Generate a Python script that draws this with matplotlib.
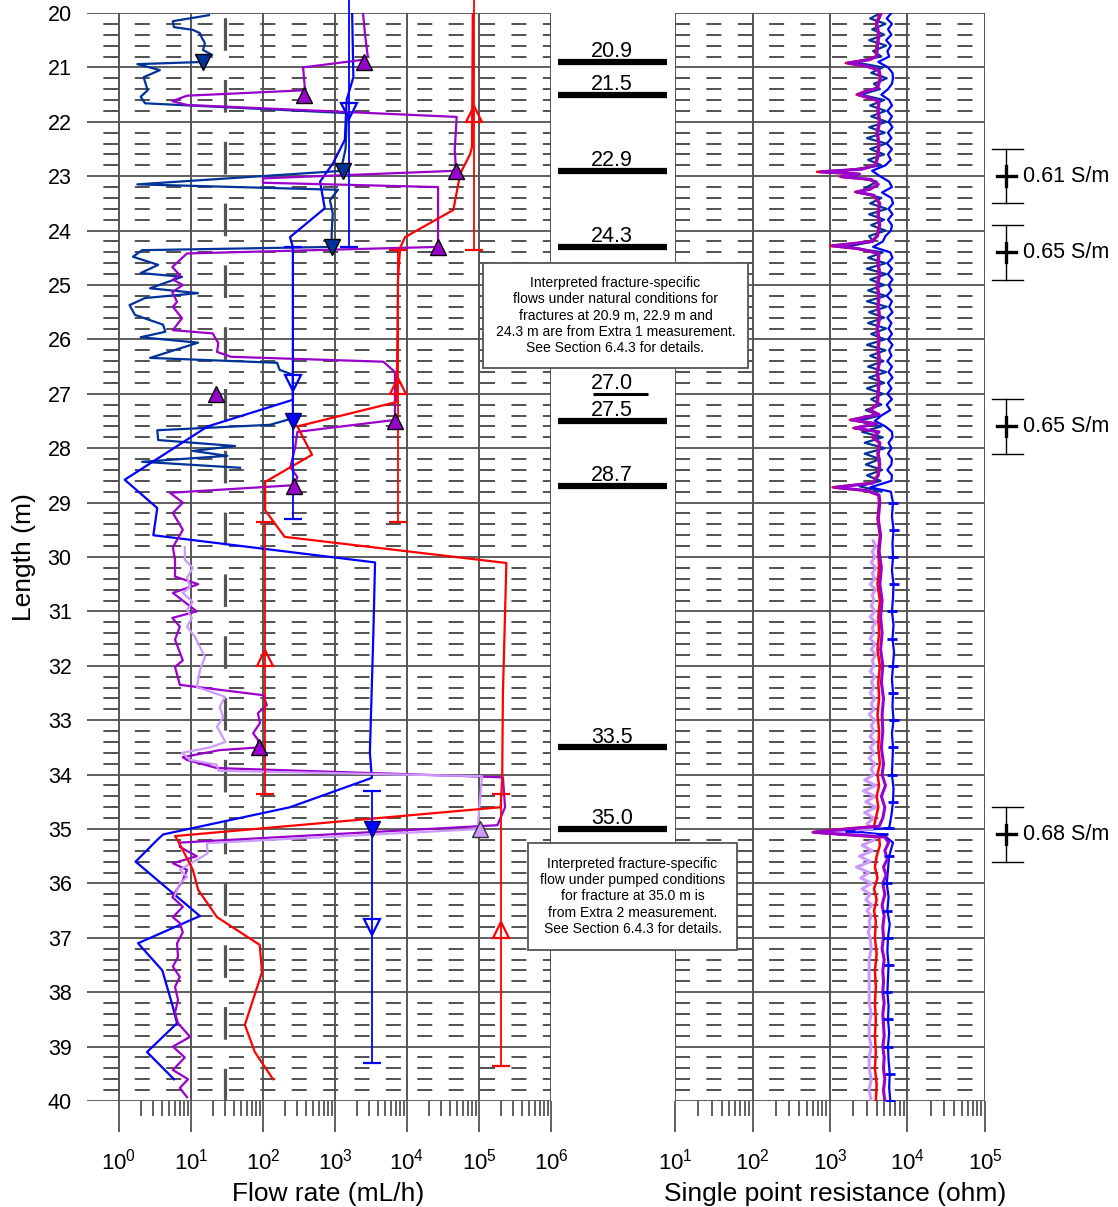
import numpy as np
import matplotlib
matplotlib.use('Agg')
import matplotlib.pyplot as plt
from matplotlib.ticker import FixedLocator, FixedFormatter, NullFormatter
from matplotlib.transforms import blended_transform_factory
from matplotlib.patches import Rectangle

plt.rcParams['font.family'] = ['Liberation Sans', 'DejaVu Sans']
plt.rcParams['mathtext.fontset'] = 'custom'
plt.rcParams['mathtext.rm'] = 'Liberation Sans'
plt.rcParams['lines.scale_dashes'] = False

NAVY = '#003399'
BLUE = '#0000ff'
PURPLE = '#9900cc'
LILAC = '#cc99ff'
RED = '#ff0000'

# ---------------- flow logging, (depth m, flow mL/h) ----------------
flow_navy = [(20.04, 17.8), (20.15, 5.6), (20.26, 5.8), (20.31, 10.6), (20.37, 13.3),
             (20.46, 14.2), (20.55, 15.6), (20.68, 14.7), (20.77, 19.6), (20.9, 14.5),
             (20.94, 1.8), (21.05, 3.7), (21.18, 2.2), (21.42, 2.5), (21.54, 2.0),
             (21.66, 2.3), (21.84, 1470), (22.5, 1400), (22.8, 1250), (22.9, 1300),
             (23.15, 1.8), (23.25, 1100), (23.44, 850), (23.68, 930), (24.05, 900),
             (24.3, 900), (24.36, 2.1), (24.48, 1.56), (24.63, 3.5), (24.78, 2.0),
             (24.85, 7.5), (25.06, 2.7), (25.15, 12.5), (25.24, 2.3), (25.37, 1.4),
             (25.55, 1.67), (25.73, 4.1), (25.86, 4.4), (25.96, 2.0), (26.06, 12.5),
             (26.34, 2.7), (26.43, 157), (26.56, 170), (26.65, 260), (27.45, 260),
             (27.57, 125), (27.67, 3.4), (27.85, 3.5), (27.96, 41), (28.05, 10.6),
             (28.14, 32), (28.25, 2.1), (28.36, 48)]

flow_blue = [(20.0, 1730), (21.18, 1800), (21.6, 1450), (22.33, 1370), (22.76, 940),
             (23.1, 620), (23.59, 720), (24.12, 237), (24.3, 260), (27.11, 260),
             (27.6, 17), (28.58, 1.2), (29.1, 3.4), (29.6, 3.0), (30.1, 3600),
             (31.47, 3400), (33.6, 3050), (34.06, 3250), (34.6, 237), (35.1, 4.1),
             (35.2, 3.4), (35.6, 1.7), (36.6, 13.3), (37.1, 1.84), (37.6, 4.0),
             (38.27, 5.6), (38.57, 6.4), (39.1, 2.45), (39.6, 5.8)]

flow_purple = [(20.0, 2450), (20.37, 2600), (20.8, 2850), (20.86, 2450), (21.0, 360),
               (21.35, 380), (21.42, 380), (21.52, 8.8), (21.62, 5.5), (21.69, 8.8),
               (21.91, 4.9e4), (22.52, 4.6e4), (22.9, 4.8e4), (23.04, 100), (23.12, 100),
               (23.2, 2.7e4), (24.17, 2.7e4), (24.3, 2.7e4), (24.42, 8.8), (24.67, 5.5),
               (24.82, 7.0), (24.9, 5.6), (25.0, 7.7), (25.13, 5.5), (25.31, 6.4),
               (25.4, 5.6), (25.61, 7.5), (25.83, 5.6), (25.89, 20), (26.07, 24),
               (26.23, 23), (26.32, 36), (26.41, 4700), (26.6, 6800), (27.48, 6800),
               (27.7, 300), (27.98, 280), (28.35, 240), (28.53, 300), (28.68, 270),
               (28.82, 5.1), (29.0, 7.7), (29.19, 5.6), (29.5, 7.7), (29.82, 5.6),
               (30.05, 6.0), (30.36, 6.0), (30.5, 12.6), (30.66, 5.6), (31.0, 12),
               (31.12, 5.5), (31.28, 7.0), (31.52, 6.0), (31.9, 7.7), (32.02, 6.0),
               (32.35, 7.0), (32.54, 100), (32.72, 113), (32.87, 85), (33.05, 91),
               (33.24, 73), (33.36, 85), (33.5, 88), (33.55, 25), (33.68, 7.7),
               (33.73, 8.8), (33.88, 23), (34.05, 2.15e5), (34.6, 2.3e5), (34.93, 1.8e5),
               (35.25, 7.0), (35.33, 7.0), (35.5, 12), (35.63, 5.6), (35.75, 8.8),
               (35.94, 7.7), (36.25, 5.5), (36.43, 7.7), (36.62, 5.6), (36.73, 7.0),
               (36.9, 7.7), (37.1, 6.4), (37.35, 6.6), (37.53, 5.6), (37.72, 7.0),
               (37.9, 6.0), (38.14, 6.6), (38.38, 6.0), (38.57, 6.6), (38.82, 9.7),
               (39.0, 5.6), (39.2, 8.2), (39.43, 5.6), (39.6, 9.1), (39.76, 7.0),
               (39.93, 8.8)]

flow_lilac = [(29.82, 8.2), (30.05, 8.2), (30.2, 10.6), (30.38, 8.8), (30.55, 9.7),
              (30.66, 7.7), (30.83, 10.6), (30.97, 8.8), (31.12, 10.3), (31.28, 8.8),
              (31.47, 11.4), (31.65, 13.3), (31.84, 15.6), (32.08, 13.3), (32.39, 12.1),
              (32.57, 29.7), (32.76, 25), (32.94, 28), (33.12, 23), (33.4, 30),
              (33.5, 18.4), (33.6, 7.5), (33.73, 9.7), (33.82, 23), (33.93, 24),
              (34.03, 1.1e5), (34.35, 1.05e5), (34.9, 9.7e4), (35.0, 1.05e5),
              (35.26, 16.6), (35.45, 17), (35.75, 7.0), (35.88, 8.8), (36.0, 7.0),
              (36.21, 6.0)]

flow_red = [(20.0, 8.2e4), (22.46, 8.0e4), (22.6, 7.5e4), (22.95, 5.5e4), (23.62, 4.4e4),
            (24.12, 9400), (24.32, 8000), (24.9, 7500), (27.15, 7200), (27.6, 300),
            (28.12, 480), (28.62, 107), (29.14, 107), (29.63, 200), (30.11, 2.4e5),
            (32.5, 2.15e5), (34.05, 2.1e5), (34.6, 2.0e5), (35.13, 6.0), (35.2, 6.5),
            (35.75, 10.6), (36.12, 12.6), (36.62, 23), (37.13, 90), (37.63, 97),
            (38.6, 56), (39.1, 77), (39.6, 138)]

# fracture-specific flows
nat_navy_pts = [(20.9, 14.7), (22.9, 1290), (24.3, 910)]
nat_purple_pts = [(20.9, 2530), (21.5, 370), (22.9, 4.8e4), (24.3, 2.7e4),
                  (27.0, 22), (27.5, 6800), (28.7, 270), (33.5, 88)]
pump_lilac_pts = [(35.0, 1.03e5)]
pump_blue_pts = [(27.5, 260), (35.0, 3250)]

# 5 m section flows (centre depth, flow, half length)
sect_blue = [(21.8, 1560, 2.5), (26.8, 260, 2.5), (36.8, 3250, 2.5)]
sect_red = [(21.85, 8.5e4, 2.5), (26.85, 7500, 2.5), (31.85, 107, 2.5), (36.85, 2.0e5, 2.5)]

detection_limit = 30  # mL/h

# ---------------- single point resistance, (depth m, ohm) ----------------
spr_navy = [(20.0, 4500), (20.1, 3300), (20.2, 5200), (20.3, 3500), (20.4, 5000), (20.5, 3200),
            (20.6, 5300), (20.7, 3600), (20.8, 4600), (20.9, 2000), (21.0, 4800), (21.1, 3400),
            (21.2, 5400), (21.3, 3700), (21.4, 4400), (21.5, 2500), (21.6, 5000), (21.7, 3300),
            (21.8, 5200), (21.9, 3400), (22.0, 5400), (22.1, 3200), (22.2, 5100), (22.3, 3000),
            (22.4, 5300), (22.5, 3300), (22.6, 5000), (22.7, 3100), (22.8, 4600), (22.9, 1500),
            (23.0, 1800), (23.1, 4000), (23.2, 3000), (23.3, 2400), (23.4, 4600), (23.5, 3300),
            (23.6, 5400), (23.7, 3200), (23.8, 5000), (23.9, 3400), (24.0, 5200), (24.1, 3200),
            (24.2, 3600), (24.3, 1600), (24.4, 4800), (24.5, 3100), (24.6, 5200), (24.7, 3000),
            (24.8, 5300), (24.9, 3300), (25.0, 5000), (25.1, 3100), (25.2, 5200), (25.3, 3000),
            (25.4, 5400), (25.5, 3200), (25.6, 5000), (25.7, 3100), (25.8, 5300), (25.9, 3400),
            (26.0, 5100), (26.1, 3000), (26.2, 5200), (26.3, 3300), (26.4, 4900), (26.5, 3100),
            (26.6, 5300), (26.7, 3200), (26.8, 5000), (26.9, 3000), (27.0, 4800), (27.1, 3400),
            (27.2, 4600), (27.3, 2900), (27.4, 4400), (27.5, 2300), (27.6, 4600), (27.7, 2600),
            (27.8, 4800), (27.9, 2800), (28.0, 5100), (28.1, 2800), (28.2, 4400), (28.3, 2900),
            (28.4, 4700), (28.5, 3000), (28.6, 4500), (28.7, 2400), (28.8, 4600)]

spr_blue = [(20.0, 6200), (20.1, 5400), (20.2, 6300), (20.3, 5600), (20.4, 6200), (20.5, 5300),
            (20.6, 6100), (20.7, 5500), (20.8, 5800), (20.9, 4200), (21.0, 5600), (21.1, 6400),
            (21.2, 6500), (21.3, 6300), (21.4, 5600), (21.5, 4600), (21.6, 5800), (21.7, 6300),
            (21.8, 5500), (21.9, 6300), (22.0, 5700), (22.1, 6400), (22.2, 5600), (22.3, 6200),
            (22.4, 5400), (22.5, 6300), (22.6, 5600), (22.7, 6100), (22.8, 5200), (22.9, 3500),
            (23.0, 4400), (23.1, 5800), (23.2, 6300), (23.3, 4700), (23.4, 6200), (23.5, 6500),
            (23.6, 5700), (23.7, 6400), (23.8, 5600), (23.9, 6300), (24.0, 6100), (24.1, 5200),
            (24.2, 4800), (24.3, 3600), (24.4, 6000), (24.5, 6400), (24.6, 5500), (24.7, 6300),
            (24.8, 5600), (24.9, 6400), (25.0, 5700), (25.1, 6200), (25.2, 5400), (25.3, 6300),
            (25.4, 5800), (25.5, 6400), (25.6, 5500), (25.7, 6200), (25.8, 5700), (25.9, 6300),
            (26.0, 5600), (26.1, 6400), (26.2, 5800), (26.3, 6200), (26.4, 5500), (26.5, 6300),
            (26.6, 5700), (26.7, 6400), (26.8, 5600), (26.9, 6200), (27.0, 5500), (27.1, 6300),
            (27.2, 5400), (27.3, 6000), (27.4, 4600), (27.5, 3800), (27.6, 5200), (27.7, 6300),
            (27.8, 6400), (27.9, 5700), (28.0, 6200), (28.1, 5600), (28.2, 6300), (28.3, 6200),
            (28.4, 5500), (28.5, 6300), (28.6, 6200), (28.72, 3300), (28.8, 6100), (29.0, 6500),
            (29.25, 6300), (29.5, 6600), (29.75, 6400), (30.0, 6500), (30.25, 6300), (30.5, 6600),
            (30.75, 6500), (31.0, 6300), (31.25, 6600), (31.5, 6400), (31.75, 6700), (32.0, 6500),
            (32.25, 6300), (32.5, 6500), (32.75, 6400), (33.0, 6600), (33.25, 6300), (33.5, 6500),
            (33.75, 6400), (34.0, 6300), (34.25, 6600), (34.5, 6500), (34.75, 6200), (34.98, 5800),
            (35.04, 1800), (35.1, 4800), (35.25, 6500), (35.5, 5800), (35.75, 5600), (36.0, 5400),
            (36.25, 5700), (36.5, 5500), (36.75, 5900), (37.0, 5600), (37.25, 5500), (37.5, 5700),
            (37.75, 5600), (38.0, 5500), (38.25, 5700), (38.5, 5600), (38.75, 5800), (39.0, 5600),
            (39.25, 5700), (39.5, 5900), (39.75, 5800), (40.0, 6000)]

spr_purple = [(20.0, 4600), (20.2, 4000), (20.4, 4300), (20.6, 4100), (20.8, 4000), (20.86, 3200),
              (20.92, 1700), (20.98, 3000), (21.05, 4300), (21.2, 4500), (21.38, 4100),
              (21.45, 2800), (21.5, 2300), (21.56, 3200), (21.62, 4300), (21.8, 4200),
              (22.0, 4400), (22.2, 4100), (22.4, 4300), (22.6, 4200), (22.8, 3900), (22.87, 2600),
              (22.92, 750), (22.96, 2400), (23.01, 1400), (23.06, 3400), (23.15, 4200),
              (23.24, 3300), (23.29, 2200), (23.35, 3700), (23.5, 4400), (23.7, 4200),
              (23.9, 4400), (24.1, 4100), (24.2, 3500), (24.25, 1700), (24.28, 1070),
              (24.33, 2300), (24.42, 4300), (24.6, 4200), (24.8, 4400), (25.0, 4100),
              (25.2, 4300), (25.4, 4200), (25.6, 4400), (25.8, 4100), (26.0, 4300), (26.2, 4200),
              (26.4, 4400), (26.6, 4100), (26.8, 4300), (27.0, 4200), (27.2, 4100), (27.3, 3300),
              (27.38, 4300), (27.48, 1900), (27.55, 4000), (27.63, 2100), (27.7, 4300),
              (27.8, 3600), (27.9, 4400), (28.1, 4200), (28.3, 4400), (28.5, 4200), (28.64, 3600),
              (28.72, 1150), (28.78, 3000), (28.86, 4300), (29.0, 4400), (29.3, 4200),
              (29.6, 4500), (29.9, 4300), (30.2, 4600), (30.5, 4400), (30.8, 4700), (31.1, 4500),
              (31.4, 4700), (31.7, 4500), (32.0, 4800), (32.3, 4600), (32.6, 4900), (32.9, 4700),
              (33.2, 4800), (33.5, 4600), (33.8, 4900), (34.0, 4700), (34.2, 5200), (34.4, 4600),
              (34.6, 5100), (34.8, 4800), (34.95, 4300), (35.02, 1200), (35.06, 620),
              (35.1, 1500), (35.15, 5100), (35.25, 5700), (35.4, 5100), (35.55, 5500),
              (35.7, 4900), (35.85, 5300), (36.0, 4800), (36.2, 5100), (36.4, 4700), (36.6, 5000),
              (36.8, 4800), (37.0, 4900), (37.2, 4700), (37.4, 5000), (37.6, 4800), (37.8, 4900),
              (38.0, 4800), (38.2, 5000), (38.4, 4800), (38.6, 4900), (38.8, 5000), (39.0, 4800),
              (39.2, 5000), (39.4, 4900), (39.6, 5100), (39.8, 4900), (40.0, 5100)]

spr_red = [(20.0, 4400), (20.2, 3900), (20.4, 4200), (20.6, 4000), (20.8, 3900), (20.86, 3000),
           (20.92, 1600), (20.98, 2900), (21.05, 4200), (21.2, 4400), (21.38, 4000),
           (21.45, 2700), (21.5, 2200), (21.56, 3100), (21.62, 4200), (21.8, 4100),
           (22.0, 4300), (22.2, 4000), (22.4, 4200), (22.6, 4100), (22.8, 3800), (22.87, 2500),
           (22.92, 680), (22.96, 2300), (23.01, 1350), (23.06, 3300), (23.15, 4100),
           (23.24, 3200), (23.29, 2100), (23.35, 3600), (23.5, 4300), (23.7, 4100),
           (23.9, 4300), (24.1, 4000), (24.2, 3400), (24.25, 1600), (24.28, 1000),
           (24.33, 2200), (24.42, 4200), (24.6, 4100), (24.8, 4300), (25.0, 4000),
           (25.2, 4200), (25.4, 4100), (25.6, 4300), (25.8, 4000), (26.0, 4200), (26.2, 4100),
           (26.4, 4300), (26.6, 4000), (26.8, 4200), (27.0, 4100), (27.2, 4000), (27.3, 3200),
           (27.38, 4200), (27.48, 1800), (27.55, 3900), (27.63, 2000), (27.7, 4200),
           (27.8, 3500), (27.9, 4300), (28.1, 4100), (28.3, 4300), (28.5, 4100), (28.64, 3500),
           (28.72, 1080), (28.78, 2900), (28.86, 4200), (29.0, 4300), (29.3, 4100),
           (29.6, 4400), (29.9, 4200), (30.2, 4300), (30.5, 4100), (30.8, 4400), (31.1, 4200),
           (31.4, 4300), (31.7, 4100), (32.0, 4400), (32.3, 4200), (32.6, 4300), (32.9, 4100),
           (33.2, 4300), (33.5, 4200), (33.8, 4400), (34.0, 4100), (34.2, 4300), (34.4, 4000),
           (34.6, 4200), (34.8, 3900), (34.95, 3700), (35.02, 1000), (35.06, 600), (35.1, 1400),
           (35.15, 4300), (35.3, 4400), (35.5, 4000), (35.7, 3800), (35.9, 4100), (36.1, 3700),
           (36.3, 4000), (36.5, 3700), (36.7, 3900), (37.0, 3800), (37.3, 4000), (37.6, 3800),
           (37.9, 3900), (38.2, 3800), (38.5, 3900), (38.8, 3800), (39.1, 3900), (39.4, 3800),
           (39.7, 4000), (40.0, 3900)]

spr_lilac = [(29.7, 3600), (29.8, 3900), (29.9, 3500), (30.0, 3800), (30.1, 3400), (30.2, 3900),
             (30.3, 3500), (30.4, 3800), (30.5, 3300), (30.6, 3900), (30.7, 3500), (30.8, 3700),
             (30.9, 3400), (31.0, 3800), (31.1, 3300), (31.2, 3900), (31.3, 3500), (31.4, 3700),
             (31.5, 3300), (31.6, 3800), (31.7, 3400), (31.8, 3900), (31.9, 3500), (32.0, 3700),
             (32.1, 3300), (32.2, 3800), (32.3, 3400), (32.4, 3700), (32.5, 3300), (32.6, 3800),
             (32.7, 3400), (32.8, 3700), (32.9, 3200), (33.0, 3800), (33.1, 3400), (33.2, 3700),
             (33.3, 3300), (33.4, 3800), (33.5, 3300), (33.6, 3700), (33.7, 3200), (33.8, 3800),
             (33.9, 3400), (34.0, 3700), (34.1, 2800), (34.2, 3900), (34.3, 2700), (34.4, 3800),
             (34.5, 2900), (34.6, 3900), (34.7, 2800), (34.8, 3700), (34.9, 3000), (35.0, 3500),
             (35.06, 600), (35.12, 3800), (35.2, 3700), (35.3, 2600), (35.4, 3500), (35.5, 2400),
             (35.6, 3300), (35.7, 2200), (35.8, 3200), (35.9, 2500), (36.0, 3400), (36.1, 2600),
             (36.2, 3300), (36.3, 2900), (36.4, 3500), (36.5, 3000), (36.6, 3400), (36.7, 3200),
             (36.8, 3300), (36.9, 3100), (37.0, 3300), (37.2, 3400), (37.4, 3200), (37.6, 3200),
             (37.8, 3200), (38.0, 3200), (38.2, 3200), (38.4, 3400), (38.6, 3200), (38.8, 3200),
             (39.0, 3400), (39.2, 3200), (39.4, 3200), (39.6, 3400), (39.8, 3200), (40.0, 3400)]

# fracture depths shown between the panels
fracture_depths = [20.9, 21.5, 22.9, 24.3, 27.0, 27.5, 28.7, 33.5, 35.0]
fracture_minor = [27.0]

# electric conductivity of fracture water
cond_depths = [23.0, 24.4, 27.6, 35.1]
cond_labels = ['0.61 S/m', '0.65 S/m', '0.65 S/m', '0.68 S/m']

note_natural = ('Interpreted fracture-specific\nflows under natural conditions for\n'
                'fractures at 20.9 m, 22.9 m and\n24.3 m are from Extra 1 measurement.\n'
                'See Section 6.4.3 for details.')
note_pumped = ('Interpreted fracture-specific\nflow under pumped conditions\n'
               'for fracture at 35.0 m is\nfrom Extra 2 measurement.\n'
               'See Section 6.4.3 for details.')


def unpack(pairs):
    arr = np.array(pairs, dtype=float)
    return arr[:, 0], arr[:, 1]


W, H = 1118, 1207
fig = plt.figure(figsize=(W / 100, H / 100), dpi=100)


def add_px_axes(x0, x1, y0, y1):
    return fig.add_axes([x0 / W, 1 - y1 / H, (x1 - x0) / W, (y1 - y0) / H])


ax_flow = add_px_axes(87, 551, 13, 1101)
ax_mid = add_px_axes(551, 675, 13, 1101)
ax_spr = add_px_axes(675, 985, 13, 1101)


def setup_log_panel(ax, lo_dec, hi_dec, xmin, dash_offset):
    ax.set_xscale('log')
    ax.set_xlim(xmin, 10.0 ** hi_dec)
    ax.set_ylim(40, 20)
    for s in ax.spines.values():
        s.set_visible(False)
    # depth grid: solid every metre, short dashes every 0.2 m
    for d in range(20, 41):
        ax.axhline(d, color='#444444', lw=1.2, zorder=1)
    for d in range(20, 40):
        for f in (0.2, 0.4, 0.6, 0.8):
            ax.axhline(d + f, color='#333333', lw=1.2, zorder=1,
                       linestyle=(dash_offset, (10.8, 11.8)))
    for k in range(lo_dec, hi_dec + 1):
        ax.axvline(10.0 ** k, color='#555555', lw=1.4, zorder=1)
    ax.xaxis.set_ticks_position('bottom')
    ax.xaxis.set_major_locator(FixedLocator([10.0 ** k for k in range(lo_dec, hi_dec + 1)]))
    ax.xaxis.set_major_formatter(FixedFormatter(
        [r'$\mathregular{10^{%d}}$' % k for k in range(lo_dec, hi_dec + 1)]))
    ax.xaxis.set_minor_locator(FixedLocator(
        [m * 10.0 ** k for k in range(lo_dec, hi_dec) for m in range(2, 10)]))
    ax.xaxis.set_minor_formatter(NullFormatter())
    ax.tick_params(axis='x', which='major', length=22, width=1.3, color='#555555',
                   direction='out', pad=12, labelsize=16)
    ax.tick_params(axis='x', which='minor', length=11, width=1.3, color='#555555',
                   direction='out')


setup_log_panel(ax_flow, 0, 6, 10 ** (-32 / 72), 10.8)
setup_log_panel(ax_spr, 1, 5, 10.0, 0)

ax_flow.set_yticks(range(20, 41))
ax_flow.tick_params(axis='y', length=0, pad=11, labelsize=15.5)
ax_spr.set_yticks([])

# flow detection limit
ax_flow.axvline(detection_limit, color='#555555', lw=2.3, zorder=2,
                linestyle=(0, (23.5, 21)))

# flow curves
for pairs, color, z in [(flow_navy, NAVY, 3), (flow_blue, BLUE, 3.1),
                        (flow_purple, PURPLE, 3.2), (flow_lilac, LILAC, 3.3),
                        (flow_red, RED, 3.4)]:
    d, v = unpack(pairs)
    ax_flow.plot(v, d, color=color, lw=1.6, zorder=z)

# 5 m section results with their depth ranges
for sect, color, mk in [(sect_blue, BLUE, 'v'), (sect_red, RED, '^')]:
    for d, v, half in sect:
        eb = ax_flow.errorbar([v], [d], yerr=half, fmt=mk, color=color, ms=12,
                              mfc='none', mec=color, mew=1.6, elinewidth=1.3,
                              capsize=6.5, capthick=1.3, zorder=4)
        for art in eb.lines[0:1] + eb.lines[1] + eb.lines[2]:
            if art is not None:
                art.set_clip_on(False)

# fracture-specific flows
for pts, mk, face, edge in [(nat_navy_pts, 'v', NAVY, 'black'),
                            (nat_purple_pts, '^', PURPLE, 'black'),
                            (pump_lilac_pts, '^', LILAC, '#333333'),
                            (pump_blue_pts, 'v', BLUE, '#000066')]:
    d, v = unpack(pts)
    ax_flow.plot(v, d, linestyle='none', marker=mk, ms=12, mfc=face, mec=edge,
                 mew=1.0, zorder=5)

# single point resistance
for pairs, color, lw, z in [(spr_navy, NAVY, 1.6, 3), (spr_blue, BLUE, 1.6, 3.1),
                            (spr_lilac, LILAC, 2.2, 3.2), (spr_red, RED, 1.8, 3.3),
                            (spr_purple, PURPLE, 2.2, 3.4)]:
    d, v = unpack(pairs)
    ax_spr.plot(v, d, color=color, lw=lw, zorder=z)

# sample marks on the lower blue resistance log
d, v = unpack(spr_blue)
marks = [i for i, dd in enumerate(d) if dd >= 29 and round(dd * 4) % 2 == 0]
ax_spr.plot(v[marks], d[marks], linestyle='none', marker='_', ms=7, mew=2.0,
            color=BLUE, zorder=3.5)

# fracture column
ax_mid.set_xlim(0, 1)
ax_mid.set_ylim(40, 20)
ax_mid.axis('off')
for fd in fracture_depths:
    if fd in fracture_minor:
        ax_mid.plot([0.34, 0.78], [fd, fd], color='black', lw=2.2, solid_capstyle='butt')
    else:
        ax_mid.plot([0.056, 0.935], [fd, fd], color='black', lw=4.5, solid_capstyle='butt')
    ax_mid.text(0.49, fd - 0.09, '%.1f' % fd, ha='center', va='baseline', fontsize=15.5)

# conductivity estimates beside the resistance panel
trans = blended_transform_factory(ax_spr.transAxes, ax_spr.transData)
for cd, lab in zip(cond_depths, cond_labels):
    ax_spr.plot([1.068, 1.068], [cd - 0.5, cd + 0.5], color='black', lw=1.0,
                transform=trans, clip_on=False)
    for e in (cd - 0.5, cd + 0.5):
        ax_spr.plot([1.023, 1.123], [e, e], color='black', lw=1.0,
                    transform=trans, clip_on=False)
    ax_spr.plot([1.039, 1.100], [cd, cd], color='black', lw=2.4,
                transform=trans, clip_on=False)
    ax_spr.plot([1.068, 1.068], [cd - 0.18, cd + 0.18], color='black', lw=2.4,
                transform=trans, clip_on=False)
    ax_spr.text(1.124, cd, lab, transform=trans, ha='left', va='center', fontsize=15.5)

# axis titles
ax_flow.set_xlabel('Flow rate (mL/h)', fontsize=19)
ax_flow.xaxis.set_label_coords(0.519, -0.0745)
ax_spr.set_xlabel('Single point resistance (ohm)', fontsize=19)
ax_spr.xaxis.set_label_coords(0.516, -0.0745)
ax_flow.set_ylabel('Length (m)', fontsize=19)
ax_flow.yaxis.set_label_coords(-0.110, 0.5)

# notes
for (x0, x1, y0, y1), txt in [((483, 748, 263, 368), note_natural),
                              ((528, 737, 843, 950), note_pumped)]:
    fig.add_artist(Rectangle((x0 / W, 1 - y1 / H), (x1 - x0) / W, (y1 - y0) / H,
                             transform=fig.transFigure, facecolor='white',
                             edgecolor='#555555', lw=1.3, zorder=10))
    fig.text((x0 + x1) / 2 / W, 1 - (y0 + y1) / 2 / H, txt, ha='center', va='center',
             fontsize=10, linespacing=1.2, zorder=11)

fig.savefig('out.png', dpi=100)
